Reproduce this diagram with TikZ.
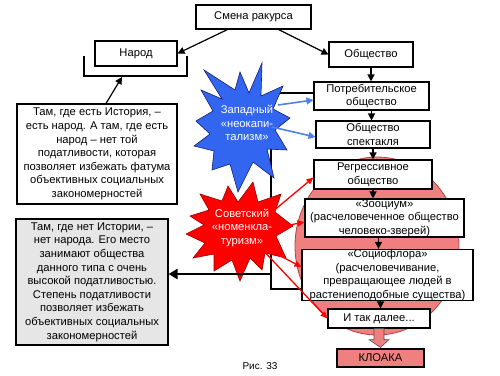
\documentclass[tikz,border=0pt]{standalone}
\usepackage{fontspec}
\setmainfont{Liberation Sans}
\usetikzlibrary{arrows.meta,calc}
\definecolor{pinkfill}{RGB}{240,128,128}
\definecolor{pinkline}{RGB}{170,70,70}
\definecolor{starblue}{RGB}{51,102,240}
\definecolor{starblueline}{RGB}{20,30,110}
\definecolor{arrblue}{RGB}{80,130,230}
\definecolor{grayfill}{RGB}{230,230,230}
\begin{document}
\begin{tikzpicture}[x=1pt,y=-1pt,
  every node/.style={font=\fontsize{11.2}{13.6}\selectfont},
  box/.style={draw=black,line width=1.1pt,fill=white,align=center,inner sep=0pt},
  blk/.style={line width=1.2pt,-{Triangle[length=7pt,width=7pt]}},
  thickline/.style={line width=2.4pt},
  bluearr/.style={draw=arrblue,line width=1.6pt,-{Triangle[length=7pt,width=7pt]}},
  redarr/.style={draw=red,line width=1.3pt,-{Triangle[length=7pt,width=6pt]}},
  startext/.style={text=white,align=center}
]
\fill[white] (0,0) rectangle (500,375);
\useasboundingbox (0,0) rectangle (500,375);

% pink ellipse
\draw[fill=pinkfill,draw=pinkline,line width=0.8pt] (377,246) ellipse [x radius=82,y radius=89];

% bracket under Народ
\draw[thickline] (84,56) -- (84,76) -- (187,76) -- (187,56);
\coordinate (brk) at (122,77);

% big bracket
\coordinate (b1) at (314,93);
\coordinate (b2) at (271,93);
\coordinate (b3) at (271,289);
\coordinate (b4) at (302,289);
\coordinate (j) at (271,274);
\draw[thickline] (b1) -- (b2) -- (b3) -- (b4);

% blue star
\draw[fill=starblue,draw=starblueline,line width=0.6pt]
 (262,63) -- (261,96) -- (283,86) -- (273,109) -- (290,118) -- (275,130) -- (287,150)
 -- (267,149) -- (274,178) -- (253,162) -- (238,192) -- (230,164) -- (212,170)
 -- (214,151) -- (194,146) -- (210,134) -- (196,121) -- (213,111) -- (201,90)
 -- (222,99) -- (204,70) -- (235,90) -- (240,72) -- (249,93) -- cycle;
\node[startext] (west) at (247,123) {Западный\\«неокапи-\\тализм»};

% red star
\draw[fill=red,draw=red!60!black,line width=0.6pt]
 (253,182) -- (258,202) -- (281,194) -- (275,212) -- (293,226) -- (276,236)
 -- (286,258) -- (265,253) -- (262,270) -- (250,258) -- (240,281) -- (232,260)
 -- (214,271) -- (214,254) -- (193,258) -- (205,243) -- (186,234) -- (204,225)
 -- (190,216) -- (209,210) -- (200,194) -- (222,201) -- (228,186) -- (238,202) -- cycle;
\node[startext] (sov) at (242,228) {Советский\\«номенкла-\\туризм»};

% boxes
\node[box,minimum width=115pt,minimum height=24pt] (smena) at (253.5,17) {Смена ракурса};
\node[box,minimum width=82pt,minimum height=25pt] (narod) at (136,53.5) {Народ};
\node[box,minimum width=84pt,minimum height=25pt] (obsh) at (371,54.5) {Общество};
\node[box,minimum width=115pt,minimum height=28pt] (potr) at (371.5,96) {Потребительское\\общество};
\node[box,minimum width=114pt,minimum height=27pt] (spekt) at (373,134.5) {Общество\\спектакля};
\node[box,minimum width=118pt,minimum height=29pt] (regr) at (373,174.5) {Регрессивное\\общество};
\node[box,minimum width=159pt,minimum height=38pt] (zoo) at (384.5,218) {«Зооциум»\\(расчеловеченное общество\\человеко-зверей)};
\node[box,minimum width=171pt,minimum height=48pt] (socio) at (387.5,275) {«Социофлора»\\(расчеловечивание,\\превращающее людей в\\растениеподобные существа)};
\node[box,minimum width=102pt,minimum height=19pt] (itak) at (379,318.5) {И так далее...};
\node[box,fill=pinkfill,minimum width=87pt,minimum height=18pt] (kloaka) at (380.5,358) {КЛОАКА};
\node[box,minimum width=160pt,minimum height=100pt] (left1) at (97,154)
 {Там, где есть История, –\\есть народ. А там, где есть\\народ – нет той\\податливости, которая\\позволяет избежать фатума\\объективных социальных\\закономерностей};
\node[box,fill=grayfill,minimum width=152pt,minimum height=126pt] (left2) at (92,282)
 {Там, где нет Истории, –\\нет народа. Его место\\занимают общества\\данного типа с очень\\высокой податливостью.\\Степень податливости\\позволяет избежать\\объективных социальных\\закономерностей};
\node[font=\fontsize{10}{11}\selectfont] (fig) at (260,366) {Рис. 33};

% black arrows
\draw[blk] ([xshift=32pt]smena.south west) -- (narod.east);
\draw[blk] ([xshift=-33pt]smena.south east) -- (obsh.west);
\draw[blk] (obsh.south) -- (obsh.south |- potr.north);
\draw[blk] (potr.south) -- (potr.south |- spekt.north);
\draw[blk] (spekt.south) -- (spekt.south |- regr.north);
\draw[blk] (regr.south) -- (regr.south |- zoo.north);
\draw[blk] ([xshift=-6pt]zoo.south) -- ([xshift=-6pt]zoo.south |- socio.north);
\draw[blk] ([xshift=-7pt]socio.south) -- ([xshift=-7pt]socio.south |- itak.north);
\draw[blk] ([xshift=9pt]left1.north) -- (brk);
\draw[line width=2.4pt,-{Triangle[length=9pt,width=10pt]}] (j) -- (left2.east |- j);

% block arrow to КЛОАКА
\draw[fill=pinkfill,draw=black!70,line width=0.6pt]
 ($(itak.south)+(-5,0)$) -- ($(itak.south)+(5,0)$) -- ($(itak.south)+(5,11)$)
 -- ($(itak.south)+(10,11)$) -- ($(kloaka.north)+(0,-1)$) -- ($(itak.south)+(-10,11)$)
 -- ($(itak.south)+(-5,11)$) -- cycle;

% blue arrows
\draw[bluearr] (278,105) -- ([yshift=-4pt]potr.west);
\draw[bluearr] (272,127) -- ([yshift=-2.5pt]spekt.west);

% red arrows
\draw[redarr] (272,212) -- ([yshift=-3pt]regr.west);
\draw[redarr] (275,228) -- ([yshift=-4pt]zoo.west);
\draw[redarr] (273,252) -- ([yshift=8pt]socio.west);
\draw[redarr] (258,245) -- (itak.west);
\end{tikzpicture}
\end{document}
